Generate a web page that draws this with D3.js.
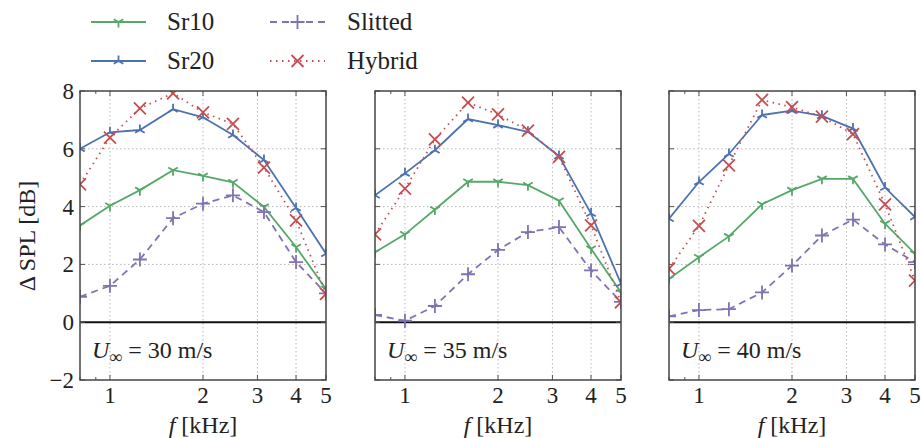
<!DOCTYPE html>
<html>
<head>
<meta charset="utf-8">
<script src="https://cdn.jsdelivr.net/npm/d3@7"></script>
<style>
  body { margin: 0; background: #fff; }
  svg text { font-family: "Liberation Serif", "Times New Roman", Times, "DejaVu Serif", "Noto Serif", serif; fill: #222; }
</style>
</head>
<body>
<div id="chart"></div>
<script>
// frequency bands (kHz) and the three flow speeds
const freqs = [0.8, 1, 1.25, 1.6, 2, 2.5, 3.15, 4, 5];
const speeds = [30, 35, 40];

// ΔSPL [dB], one row per speed
const sr10 = [
  [3.35, 4.03, 4.57, 5.26, 5.06, 4.84, 3.99, 2.6, 1.15],
  [2.42, 3.04, 3.9, 4.86, 4.86, 4.74, 4.2, 2.54, 1.03],
  [1.5, 2.25, 2.97, 4.08, 4.57, 4.96, 4.96, 3.41, 2.37]
];
const sr20 = [
  [6.0, 6.57, 6.65, 7.37, 7.09, 6.48, 5.61, 3.95, 2.37],
  [4.39, 5.15, 5.95, 7.03, 6.82, 6.59, 5.75, 3.76, 1.33],
  [3.58, 4.85, 5.82, 7.17, 7.32, 7.14, 6.7, 4.66, 3.64]
];
const slitted = [
  [0.88, 1.26, 2.17, 3.6, 4.1, 4.39, 3.81, 2.08, 1.0],
  [0.25, 0.05, 0.56, 1.66, 2.5, 3.12, 3.29, 1.79, 0.7],
  [0.2, 0.42, 0.45, 1.03, 1.96, 3.0, 3.55, 2.69, 2.08]
];
const hybrid = [
  [4.77, 6.39, 7.4, 7.92, 7.26, 6.86, 5.35, 3.52, 0.98],
  [3.04, 4.62, 6.33, 7.6, 7.19, 6.63, 5.72, 3.35, 0.69],
  [1.85, 3.33, 5.43, 7.69, 7.44, 7.11, 6.51, 4.08, 1.44]
];

const xTicks = [1, 2, 3, 4, 5];
const xMinor = [0.8, 0.9, 1, 2, 3, 4, 5];
const yTicks = [-2, 0, 2, 4, 6, 8];

const series = [
  {name: "Sr10", data: sr10, color: "#55a868", dash: null, marker: "triDown"},
  {name: "Sr20", data: sr20, color: "#4c72b0", dash: null, marker: "triUp"},
  {name: "Slitted", data: slitted, color: "#8172b2", dash: "7,5", marker: "plus"},
  {name: "Hybrid", data: hybrid, color: "#c44e52", dash: "1.5,4.5", marker: "cross"}
];

const W = 921, H = 438;
const panelX = [80, 375, 669], panelW = 246;
const plotTop = 91, plotBottom = 380;

const svg = d3.select("#chart").append("svg")
  .attr("width", W).attr("height", H);

const y = d3.scaleLinear().domain([-2, 8]).range([plotBottom, plotTop]);

function markerPath(type) {
  const p = d3.path();
  if (type === "triDown" || type === "triUp") {
    const r = 5.5, s = type === "triDown" ? 1 : -1;
    p.moveTo(0, 0); p.lineTo(0, s * r);
    p.moveTo(0, 0); p.lineTo(-0.866 * r, -s * r / 2);
    p.moveTo(0, 0); p.lineTo(0.866 * r, -s * r / 2);
  } else if (type === "plus") {
    const r = 7;
    p.moveTo(-r, 0); p.lineTo(r, 0);
    p.moveTo(0, -r); p.lineTo(0, r);
  } else {
    const r = 6;
    p.moveTo(-r, -r); p.lineTo(r, r);
    p.moveTo(-r, r); p.lineTo(r, -r);
  }
  return p.toString();
}

speeds.forEach((u, i) => {
  const x0 = panelX[i];
  const x = d3.scaleLog().domain([0.8, 5]).range([x0, x0 + panelW]);
  const g = svg.append("g");

  g.append("clipPath").attr("id", "clip" + i)
    .append("rect").attr("x", x0).attr("y", plotTop)
    .attr("width", panelW).attr("height", plotBottom - plotTop);

  // dotted grid
  g.selectAll(".vgrid").data(xTicks.slice(0, 4)).enter().append("line")
    .attr("x1", d => x(d)).attr("x2", d => x(d))
    .attr("y1", plotTop).attr("y2", plotBottom)
    .attr("stroke", "#b8b8b8").attr("stroke-width", 1)
    .attr("stroke-dasharray", "1.5,2.5");
  g.selectAll(".hgrid").data([2, 4, 6]).enter().append("line")
    .attr("x1", x0).attr("x2", x0 + panelW)
    .attr("y1", d => y(d)).attr("y2", d => y(d))
    .attr("stroke", "#b8b8b8").attr("stroke-width", 1)
    .attr("stroke-dasharray", "1.5,2.5");

  // zero line
  g.append("line")
    .attr("x1", x0).attr("x2", x0 + panelW)
    .attr("y1", y(0)).attr("y2", y(0))
    .attr("stroke", "#111").attr("stroke-width", 2);

  // inward ticks
  const ticks = g.append("g").attr("stroke", "#555").attr("stroke-width", 1);
  xMinor.forEach(f => {
    const len = xTicks.includes(f) ? 5 : 3;
    ticks.append("line").attr("x1", x(f)).attr("x2", x(f))
      .attr("y1", plotBottom).attr("y2", plotBottom - len);
    ticks.append("line").attr("x1", x(f)).attr("x2", x(f))
      .attr("y1", plotTop).attr("y2", plotTop + len);
  });
  yTicks.forEach(v => {
    ticks.append("line").attr("x1", x0).attr("x2", x0 + 5)
      .attr("y1", y(v)).attr("y2", y(v));
    ticks.append("line").attr("x1", x0 + panelW).attr("x2", x0 + panelW - 5)
      .attr("y1", y(v)).attr("y2", y(v));
  });

  // curves
  const line = d3.line().x((d, k) => x(freqs[k])).y(d => y(d));
  const plot = g.append("g").attr("clip-path", `url(#clip${i})`);
  series.forEach(s => {
    plot.append("path")
      .attr("d", line(s.data[i]))
      .attr("fill", "none")
      .attr("stroke", s.color)
      .attr("stroke-width", 1.8)
      .attr("stroke-dasharray", s.dash);
    plot.selectAll(null).data(s.data[i]).enter().append("path")
      .attr("d", markerPath(s.marker))
      .attr("transform", (d, k) => `translate(${x(freqs[k])},${y(d)})`)
      .attr("fill", "none")
      .attr("stroke", s.color)
      .attr("stroke-width", 1.8);
  });

  // frame
  g.append("rect")
    .attr("x", x0).attr("y", plotTop)
    .attr("width", panelW).attr("height", plotBottom - plotTop)
    .attr("fill", "none").attr("stroke", "#444").attr("stroke-width", 1.5);

  // x tick labels
  g.selectAll(".xt").data(xTicks).enter().append("text")
    .attr("x", d => x(d)).attr("y", 403)
    .attr("text-anchor", "middle")
    .style("font-size", "23px")
    .text(d => d);

  // x label
  const xl = g.append("text")
    .attr("x", x0 + panelW / 2).attr("y", 433)
    .attr("text-anchor", "middle")
    .style("font-size", "24px");
  xl.append("tspan").style("font-style", "italic").text("f");
  xl.append("tspan").text(" [kHz]");

  // speed annotation
  const an = g.append("text")
    .attr("x", x0 + 12).attr("y", 358)
    .style("font-size", "24px");
  an.append("tspan").style("font-style", "italic").text("U");
  an.append("tspan").attr("dy", 5).style("font-size", "18px").text("∞");
  an.append("tspan").attr("dy", -5).text(` = ${u} m/s`);

  if (i === 0) {
    g.selectAll(".yt").data(yTicks).enter().append("text")
      .attr("x", x0 - 6).attr("y", d => y(d))
      .attr("dy", "0.35em")
      .attr("text-anchor", "end")
      .style("font-size", "23px")
      .text(d => d < 0 ? "\u2212" + Math.abs(d) : d);
  }
});

// y label
svg.append("text")
  .attr("transform", "translate(35,236) rotate(-90)")
  .attr("text-anchor", "middle")
  .style("font-size", "24px")
  .text("Δ SPL [dB]");

// legend
const legPos = [
  {lx: 91, tx: 167, y: 22},
  {lx: 91, tx: 167, y: 61},
  {lx: 270, tx: 347, y: 22},
  {lx: 270, tx: 347, y: 61}
];
series.forEach((s, k) => {
  const p = legPos[k];
  const lg = svg.append("g");
  lg.append("line")
    .attr("x1", p.lx).attr("x2", p.lx + 55)
    .attr("y1", p.y).attr("y2", p.y)
    .attr("stroke", s.color).attr("stroke-width", 1.8)
    .attr("stroke-dasharray", s.dash);
  lg.append("path")
    .attr("d", markerPath(s.marker))
    .attr("transform", `translate(${p.lx + 27.5},${p.y})`)
    .attr("fill", "none").attr("stroke", s.color).attr("stroke-width", 1.8);
  lg.append("text")
    .attr("x", p.tx).attr("y", p.y + 8)
    .style("font-size", "25px")
    .text(s.name);
});
</script>
</body>
</html>
